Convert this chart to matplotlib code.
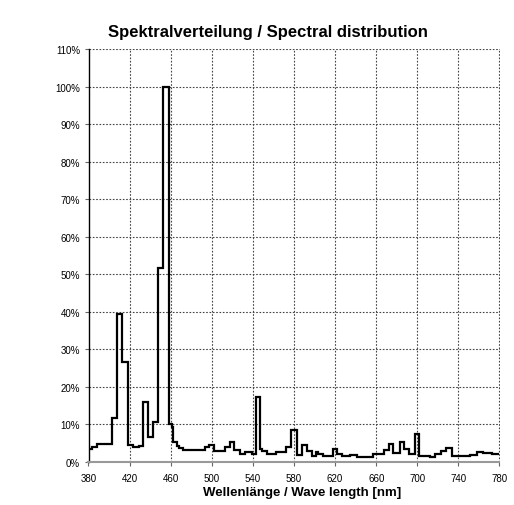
import numpy as np
import matplotlib
matplotlib.use("Agg")
import matplotlib.pyplot as plt

plt.rcParams["font.family"] = ["Liberation Sans", "DejaVu Sans"]

# ─── DATA ───────────────────────────────────────────────────
# bin edges in nm and relative intensity in % for each bin
edges = [380.0, 383.7, 388.0, 403.2, 407.4, 412.3, 418.4, 423.6, 429.4, 433.3,
         438.2, 443.1, 447.2, 452.8, 458.8, 461.0, 462.5, 465.8, 468.4, 472.3,
         493.4, 497.6, 502.4, 512.8, 517.7, 521.6, 527.4, 532.3, 538.8, 543.0,
         547.2, 548.9, 553.4, 562.2, 572.5, 577.4, 582.6, 587.5, 592.6, 597.2,
         601.4, 603.6, 608.5, 617.5, 621.5, 626.4, 629.6, 634.5, 641.0, 657.2,
         667.6, 672.0, 676.8, 683.2, 687.0, 692.4, 697.8, 702.1, 712.4, 717.2,
         722.8, 727.9, 733.5, 751.3, 757.8, 764.2, 772.4, 780.0]
intensity = [3.4, 4.1, 4.9, 11.8, 39.5, 26.6, 4.5, 3.9, 4.2, 15.9,
             6.6, 10.7, 51.7, 100.0, 10.0, 9.3, 5.2, 4.3, 3.6, 3.3,
             3.9, 4.5, 3.0, 3.9, 5.2, 3.3, 2.1, 2.6, 2.1, 17.2,
             3.5, 3.0, 2.0, 2.7, 4.0, 8.6, 1.9, 4.5, 2.8, 1.6,
             2.7, 2.1, 1.6, 3.4, 2.2, 1.7, 1.5, 1.9, 1.4, 2.1,
             3.2, 4.7, 2.5, 5.4, 3.5, 2.1, 7.5, 1.7, 1.3, 2.1,
             3.0, 3.6, 1.5, 1.9, 2.7, 2.4, 2.1]

x_ticks = list(range(380, 781, 40))
y_ticks = list(range(0, 111, 10))

fig = plt.figure(figsize=(5.14, 5.06), dpi=100)
ax = fig.add_axes([88.5 / 514, 43 / 506, 411 / 514, 413 / 506])

ax.stairs(intensity, edges, baseline=None, color="black", linewidth=1.6, zorder=3)

ax.set_xlim(380, 780)
ax.set_ylim(0, 110)
ax.set_xticks(x_ticks)
ax.set_yticks(y_ticks)
ax.set_yticklabels([f"{v}%" for v in y_ticks])
ax.tick_params(axis="both", labelsize=7, length=3, width=0.8, color="#666666")
ax.tick_params(axis="x", pad=5)
ax.tick_params(axis="y", pad=3)

ax.grid(True, linestyle=(0, (1.5, 1.5)), color="#444444", linewidth=0.8, zorder=1)

ax.spines[["top", "right"]].set_visible(False)
ax.spines["left"].set_color("black")
ax.spines["left"].set_linewidth(1.0)
ax.spines["bottom"].set_color("#999999")
ax.spines["bottom"].set_linewidth(1.5)

ax.set_xlabel("Wellenlänge / Wave length [nm]", fontsize=9.5, fontweight="bold")
ax.xaxis.set_label_coords((302 - 88.5) / 411, -24 / 413)

fig.text(268 / 514, 1 - 32 / 506, "Spektralverteilung / Spectral distribution",
         ha="center", va="center", fontsize=12, fontweight="bold")

plt.savefig("out.png", dpi=100)
